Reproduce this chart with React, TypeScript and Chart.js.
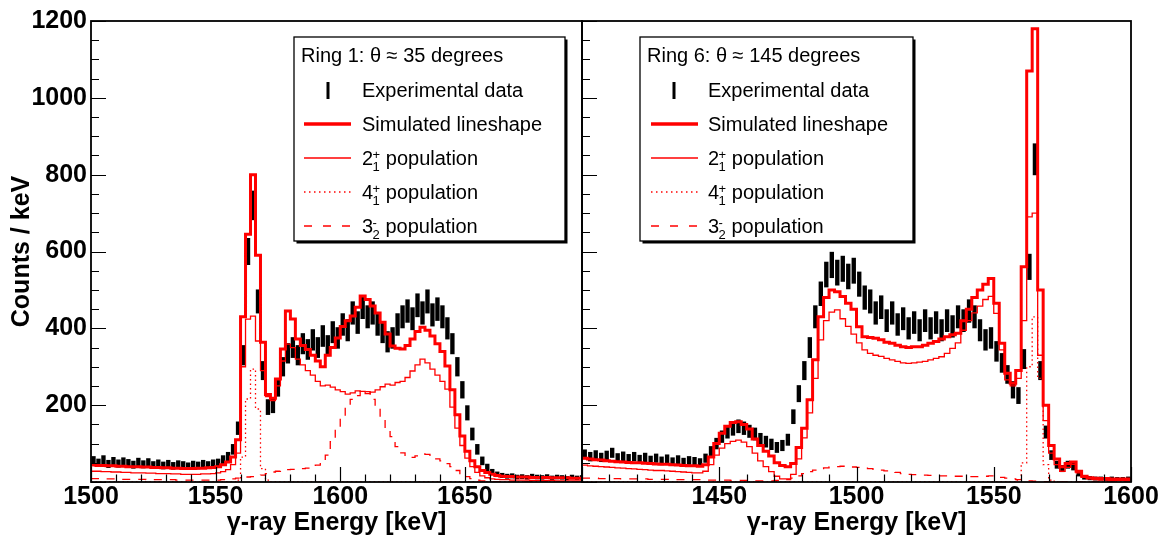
import React, { useEffect, useRef } from "react";
import { Chart, registerables } from "chart.js";

Chart.register(...registerables);

const FONT = '"Liberation Sans", Arial, Helvetica, sans-serif';
const RED = "#ff0000";
const BIN_WIDTH = 2;
const ERROR_SCALE = 1.4;

// ---------- axes ----------
const leftBinStart = 1500;
const leftRange = [1500, 1697];
const leftTickLabels = [1500, 1550, 1600, 1650];
const rightBinStart = 1400;
const rightRange = [1400, 1600];
const rightTickLabels = [1450, 1500, 1550, 1600];
const yRange = [0, 1200];
const yTickLabels = [200, 400, 600, 800, 1000, 1200];

const leftTitle = "Ring 1: θ ≈ 35 degrees";
const rightTitle = "Ring 6: θ ≈ 145 degrees";

// ---------- Ring 1 (left), 2 keV bins from 1500 ----------
const leftData = [
  56, 50, 58, 47, 54, 48, 53, 49, 45, 52,
  46, 51, 44, 48, 43, 47, 42, 46, 44, 41,
  45, 43, 47, 44, 48, 50, 58, 66, 85, 140,
  330, 600, 720, 470, 290, 195, 200, 245, 300, 335,
  350, 330, 360, 345, 370, 350, 380, 355, 390, 375,
  410, 395, 440, 415, 455, 430, 440, 410, 390, 365,
  375, 410, 430, 445, 425, 460, 440, 470, 435, 450,
  430, 400, 360, 300, 240, 180, 125, 85, 55, 38,
  26, 20, 17, 15, 16, 13, 14, 12, 15, 13,
  12, 14, 11, 13, 12, 10, 13, 11, 12,
];
const leftTotal = [
  44, 43, 43, 42, 42, 41, 41, 40, 40, 40,
  39, 39, 38, 38, 37, 37, 36, 36, 35, 35,
  35, 36, 36, 37, 38, 40, 45, 52, 65, 110,
  430, 645, 800, 590, 364, 228, 218, 268, 346, 445,
  424, 372, 355, 345, 330, 315, 300, 330, 350, 375,
  405, 420, 432, 455, 484, 475, 458, 440, 416, 385,
  354, 348, 346, 355, 372, 392, 403, 395, 380, 360,
  340, 302, 240, 175, 120, 80, 55, 40, 30, 25,
  20, 17, 15, 14, 14, 13, 13, 13, 12, 12,
  12, 12, 11, 11, 11, 11, 10, 10, 10,
];
const leftPop2 = [
  28, 28, 27, 27, 26, 26, 25, 25, 24, 24,
  24, 23, 23, 22, 22, 22, 21, 21, 20, 20,
  20, 20, 21, 21, 22, 24, 27, 32, 45, 75,
  300, 424, 432, 367, 290, 222, 212, 250, 315, 359,
  350, 320, 305, 290, 278, 262, 250, 252, 247, 240,
  235, 229, 232, 237, 236, 230, 234, 240, 248, 255,
  252, 259, 262, 272, 289, 305, 320, 310, 294, 278,
  262, 242, 195, 140, 95, 62, 40, 25, 16, 11,
  8, 7, 6, 6, 5, 5, 5, 5, 4, 4,
  4, 4, 4, 3, 3, 3, 3, 3, 3,
];
const leftPop4 = [
  0, 0, 0, 0, 0, 0, 0, 0, 0, 0,
  0, 0, 0, 0, 0, 0, 0, 0, 0, 0,
  0, 0, 0, 0, 0, 0, 0, 0, 0, 5,
  65, 216, 294, 190, 35, 5, 0, 0, 0, 0,
  0, 0, 0, 0, 0, 0, 0, 0, 0, 0,
  0, 0, 0, 0, 0, 0, 0, 0, 0, 0,
  0, 0, 0, 0, 0, 0, 0, 0, 0, 0,
  0, 0, 0, 0, 0, 0, 0, 0, 0, 0,
  0, 0, 0, 0, 0, 0, 0, 0, 0, 0,
  0, 0, 0, 0, 0, 0, 0, 0, 0,
];
const leftPop3 = [
  9, 9, 8, 8, 8, 8, 7, 7, 7, 7,
  7, 6, 6, 6, 6, 6, 6, 5, 5, 5,
  5, 5, 5, 5, 5, 5, 6, 7, 8, 10,
  12, 13, 14, 15, 18, 22, 26, 28, 30, 32,
  33, 34, 35, 36, 40, 44, 50, 70, 105, 140,
  172, 195, 215, 225, 240, 235, 215, 195, 165, 140,
  118, 92, 76, 66, 64, 68, 73, 72, 66, 60,
  55, 48, 40, 30, 22, 14, 9, 5, 3, 2,
  1, 1, 1, 0, 0, 0, 0, 0, 0, 0,
  0, 0, 0, 0, 0, 0, 0, 0, 0,
];

// ---------- Ring 6 (right), 2 keV bins from 1400 ----------
const rightData = [
  72, 66, 70, 64, 69, 76, 63, 67, 61, 66,
  59, 64, 57, 62, 55, 60, 53, 58, 52, 56,
  54, 51, 62, 80, 100, 118, 130, 138, 145, 140,
  132, 125, 112, 105, 98, 90, 95, 110, 170, 230,
  290, 350, 430, 490, 540, 565, 545, 555, 535, 550,
  515, 480, 470, 440, 455, 420, 440, 410, 425, 400,
  415, 395, 420, 400, 415, 395, 420, 405, 430, 420,
  445, 430, 395, 370, 375, 340, 310, 280, 240, 225,
  320, 560, 840, 290, 130, 70, 45, 35, 45, 40,
  22, 12, 10, 9, 9, 8, 9, 8, 8, 9,
];
const rightTotal = [
  62, 60, 58, 57, 55, 54, 53, 52, 51, 50,
  50, 49, 48, 47, 46, 46, 45, 44, 43, 42,
  42, 41, 45, 65, 100, 127, 145, 155, 157, 150,
  138, 112, 95, 80, 68, 50, 43, 40, 48, 90,
  140, 214, 318, 430, 480, 500, 495, 483, 465, 450,
  404, 378, 376, 374, 370, 364, 361, 356, 352, 350,
  352, 352, 356, 361, 366, 372, 378, 383, 387, 420,
  450, 480, 500, 515, 530, 465, 361, 283, 257, 290,
  560, 1070, 1180, 500, 200, 95, 60, 40, 48, 52,
  28, 15, 11, 10, 9, 9, 8, 8, 8, 8,
];
const rightPop2 = [
  44, 42, 41, 40, 39, 38, 37, 36, 35, 34,
  33, 32, 31, 30, 30, 29, 28, 27, 26, 25,
  24, 24, 28, 45, 70, 88, 100, 106, 109, 104,
  92, 75, 55, 40, 27, 15, 8, 8, 20, 60,
  115, 180, 270, 370, 420, 442, 448, 425, 405, 385,
  362, 344, 335, 330, 327, 322, 318, 314, 310, 309,
  310, 312, 314, 318, 322, 326, 335, 348, 362, 395,
  420, 440, 458, 475, 483, 439, 344, 266, 250, 270,
  420, 690, 700, 330, 160, 75, 45, 28, 38, 46,
  24, 12, 8, 6, 5, 5, 4, 4, 4, 4,
];
const rightPop4 = [
  0, 0, 0, 0, 0, 0, 0, 0, 0, 0,
  0, 0, 0, 0, 0, 0, 0, 0, 0, 0,
  0, 0, 0, 0, 0, 0, 0, 0, 0, 0,
  0, 0, 0, 0, 0, 0, 0, 0, 0, 0,
  0, 0, 0, 0, 0, 0, 0, 0, 0, 0,
  0, 0, 0, 0, 0, 0, 0, 0, 0, 0,
  0, 0, 0, 0, 0, 0, 0, 0, 0, 0,
  0, 0, 0, 0, 0, 0, 0, 0, 0, 5,
  50, 300, 430, 270, 45, 5, 0, 0, 0, 0,
  0, 0, 0, 0, 0, 0, 0, 0, 0, 0,
];
const rightPop3 = [
  10, 10, 10, 9, 9, 9, 9, 8, 8, 8,
  8, 8, 7, 7, 7, 7, 7, 6, 6, 6,
  6, 6, 5, 5, 5, 5, 5, 4, 4, 4,
  4, 3, 3, 3, 3, 4, 4, 6, 10, 16,
  22, 27, 31, 35, 37, 39, 40, 41, 40, 39,
  38, 36, 35, 33, 31, 29, 27, 25, 22, 20,
  19, 18, 18, 17, 17, 16, 16, 15, 15, 15,
  14, 14, 14, 15, 16, 14, 12, 10, 8, 6,
  4, 3, 2, 2, 1, 0, 0, 0, 0, 0,
  0, 0, 0, 0, 0, 0, 0, 0, 0, 0,
];

// ---------- helpers ----------
function histPoints(start: number, values: number[]) {
  const pts = values.map((v, i) => ({ x: start + i * BIN_WIDTH, y: v }));
  pts.push({ x: start + values.length * BIN_WIDTH, y: values[values.length - 1] });
  return pts;
}
function errorBars(start: number, values: number[]) {
  return values.map((v, i) => {
    const e = ERROR_SCALE * Math.sqrt(v);
    return { x: start + (i + 0.5) * BIN_WIDTH, y: [Math.max(0, v - e), v + e] };
  });
}

const framePlugin = {
  id: "rootFrame",
  afterDraw(chart: any) {
    const { ctx, chartArea: a, scales } = chart;
    const x = scales.x;
    const y = scales.y;
    ctx.save();
    ctx.strokeStyle = "#000";
    ctx.lineWidth = 1.2;
    ctx.beginPath();
    for (let v = Math.ceil(x.min / 10) * 10; v <= x.max; v += 10) {
      const px = Math.round(x.getPixelForValue(v)) + 0.5;
      const len = v % 50 === 0 ? 15 : 7.5;
      ctx.moveTo(px, a.bottom);
      ctx.lineTo(px, a.bottom - len);
    }
    for (let v = y.min; v <= y.max; v += 50) {
      const py = Math.round(y.getPixelForValue(v)) + 0.5;
      const len = v % 200 === 0 ? 15 : 8;
      ctx.moveTo(a.left, py);
      ctx.lineTo(a.left + len, py);
    }
    ctx.stroke();
    ctx.lineWidth = 1.8;
    ctx.strokeRect(a.left, a.top, a.right - a.left, a.bottom - a.top);
    ctx.restore();
  },
};

function makeLegendPlugin(cfg: any) {
  return {
    id: "rootLegend",
    afterDraw(chart: any) {
      const ctx = chart.ctx;
      const { bx, by, bw, bh, titleX, symA, symB, barX, textX, title } = cfg;
      ctx.save();
      ctx.fillStyle = "#000";
      ctx.fillRect(bx + 2.5, by + 2.5, bw, bh);
      ctx.fillStyle = "#fff";
      ctx.fillRect(bx, by, bw, bh);
      ctx.strokeStyle = "#000";
      ctx.lineWidth = 1.3;
      ctx.strokeRect(bx, by, bw, bh);

      const big = `20px ${FONT}`;
      const small = `13px ${FONT}`;
      ctx.fillStyle = "#000";
      ctx.textBaseline = "alphabetic";
      ctx.textAlign = "left";
      ctx.font = big;
      ctx.fillText(title, titleX, 55 + 7);

      const rows = [90, 124, 158, 192, 226];
      ctx.fillRect(barX - 1.5, rows[0] - 8, 3, 17);
      ctx.fillText("Experimental data", textX, rows[0] + 7);
      ctx.strokeStyle = RED;
      ctx.lineWidth = 3.5;
      ctx.beginPath();
      ctx.moveTo(symA, rows[1]);
      ctx.lineTo(symB, rows[1]);
      ctx.stroke();
      ctx.fillText("Simulated lineshape", textX, rows[1] + 7);
      ctx.lineWidth = 1.3;
      ctx.beginPath();
      ctx.moveTo(symA, rows[2]);
      ctx.lineTo(symB, rows[2]);
      ctx.stroke();
      ctx.setLineDash([1.5, 3.5]);
      ctx.beginPath();
      ctx.moveTo(symA, rows[3]);
      ctx.lineTo(symB, rows[3]);
      ctx.stroke();
      ctx.setLineDash([8, 11]);
      ctx.beginPath();
      ctx.moveTo(symA, rows[4]);
      ctx.lineTo(symB, rows[4]);
      ctx.stroke();
      ctx.setLineDash([]);

      const pop = (yc: number, base: string, sup: string, sub: string) => {
        ctx.font = big;
        ctx.fillText(base, textX, yc + 7);
        const w = ctx.measureText(base).width;
        ctx.font = small;
        const sx = textX + w - 0.5;
        ctx.fillText(sup, sx, yc + 0.5);
        ctx.fillText(sub, sx, yc + 12.5);
        const sw = Math.max(ctx.measureText(sup).width, ctx.measureText(sub).width);
        ctx.font = big;
        ctx.fillText(" population", sx + sw, yc + 7);
      };
      pop(rows[2], "2", "+", "1");
      pop(rows[3], "4", "+", "1");
      pop(rows[4], "3", "-", "2");
      ctx.restore();
    },
  };
}

function buildConfig(side: "left" | "right") {
  const isLeft = side === "left";
  const start = isLeft ? leftBinStart : rightBinStart;
  const s = isLeft
    ? { data: leftData, total: leftTotal, p2: leftPop2, p4: leftPop4, p3: leftPop3 }
    : { data: rightData, total: rightTotal, p2: rightPop2, p4: rightPop4, p3: rightPop3 };
  const [xmin, xmax] = isLeft ? leftRange : rightRange;
  const tickLabels = isLeft ? leftTickLabels : rightTickLabels;
  const legendCfg = isLeft
    ? { bx: 294, by: 37, bw: 271, bh: 204, titleX: 301, symA: 304, symB: 351, barX: 328, textX: 362, title: leftTitle }
    : { bx: 640, by: 37, bw: 273, bh: 204, titleX: 647, symA: 651, symB: 698, barX: 674, textX: 708, title: rightTitle };
  const lineBase = { type: "line", stepped: true, pointRadius: 0, fill: false, borderColor: RED, clip: 0, tension: 0 };
  const tickFont = { family: FONT, size: 25, weight: "bold", lineHeight: 1.2 };
  return {
    type: "line",
    data: {
      datasets: [
        { ...lineBase, label: "Simulated lineshape", data: histPoints(start, s.total), borderWidth: 3, order: 0 },
        { ...lineBase, label: "2+ population", data: histPoints(start, s.p2), borderWidth: 1.3, order: 1 },
        { ...lineBase, label: "4+ population", data: histPoints(start, s.p4), borderWidth: 1.3, borderDash: [1.5, 3], order: 2 },
        { ...lineBase, label: "3- population", data: histPoints(start, s.p3), borderWidth: 1.3, borderDash: [8, 8], order: 3 },
        {
          type: "bar",
          label: "Experimental data",
          data: errorBars(start, s.data),
          backgroundColor: "#000",
          borderWidth: 0,
          barThickness: 3.7,
          order: 4,
          clip: 0,
        },
      ],
    },
    options: {
      responsive: false,
      animation: false,
      events: [],
      layout: {
        padding: isLeft ? { left: 0, right: 588, top: 21, bottom: 0 } : { left: 582, right: 39, top: 21, bottom: 0 },
      },
      plugins: { legend: { display: false }, tooltip: { enabled: false } },
      scales: {
        x: {
          type: "linear",
          min: xmin,
          max: xmax,
          offset: false,
          grid: { display: false, drawTicks: false },
          border: { display: false },
          ticks: {
            stepSize: 50,
            autoSkip: false,
            maxRotation: 0,
            minRotation: 0,
            padding: 0,
            color: "#000",
            font: tickFont,
            callback: (v: number) => (tickLabels.includes(v) ? String(v) : ""),
          },
          title: {
            display: true,
            text: "γ-ray Energy [keV]",
            color: "#000",
            font: { family: FONT, size: 25, weight: "bold", lineHeight: 1.2 },
            padding: { top: 0, bottom: 0 },
          },
          afterFit: (sc: any) => {
            sc.height = 56;
          },
        },
        y: {
          type: "linear",
          min: yRange[0],
          max: yRange[1],
          display: isLeft,
          grid: { display: false, drawTicks: false },
          border: { display: false },
          ticks: {
            stepSize: 200,
            padding: 4,
            color: "#000",
            font: tickFont,
            callback: (v: number) => (yTickLabels.includes(v) ? String(v) : ""),
          },
          title: {
            display: isLeft,
            text: "Counts / keV",
            color: "#000",
            font: { family: FONT, size: 25, weight: "bold", lineHeight: 1.2 },
            padding: { top: 7, bottom: 0 },
          },
          afterFit: (sc: any) => {
            sc.width = isLeft ? 91 : 0;
          },
        },
      },
    },
    plugins: [framePlugin, makeLegendPlugin(legendCfg)],
  } as any;
}

export default function App() {
  const leftRef = useRef<HTMLCanvasElement>(null);
  const rightRef = useRef<HTMLCanvasElement>(null);
  useEffect(() => {
    const c1 = new Chart(leftRef.current as HTMLCanvasElement, buildConfig("left"));
    const c2 = new Chart(rightRef.current as HTMLCanvasElement, buildConfig("right"));
    return () => {
      c1.destroy();
      c2.destroy();
    };
  }, []);
  return (
    <div style={{ position: "absolute", left: 0, top: 0, width: 1170, height: 538, background: "#fff", overflow: "hidden" }}>
      <canvas ref={leftRef} width={1170} height={538} style={{ position: "absolute", left: 0, top: 0 }} />
      <canvas ref={rightRef} width={1170} height={538} style={{ position: "absolute", left: 0, top: 0 }} />
    </div>
  );
}
